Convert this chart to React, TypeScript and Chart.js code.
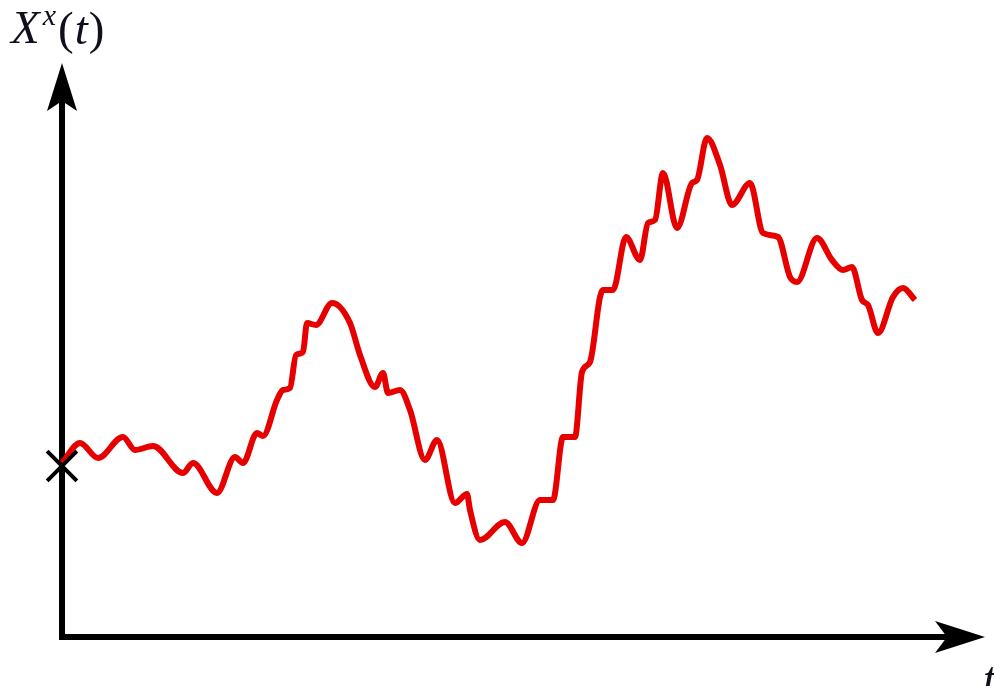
import React, { useEffect, useRef } from "react";
import { Chart, registerables } from "chart.js";

Chart.register(...registerables);

// time values (t) and process values X^x(t)
const tValues = [
  0, 18, 36, 61, 73, 91, 121, 131, 155, 173, 181, 195, 201, 215, 221, 228, 234, 241, 245, 254,
  270, 288, 298, 313, 321, 326, 338, 348, 363, 375, 393, 405, 408, 418, 443, 460, 478, 491,
  501, 513, 520, 528, 538, 541, 551, 564, 578, 586, 593, 601, 615, 630, 635, 645, 658, 670,
  688, 701, 716, 728, 735, 755, 770, 781, 790, 800, 806, 816, 831, 841, 853,
];
const xValues = [
  174, 194, 179, 200, 187, 191, 164, 174, 144, 180, 174, 204, 201, 237, 247, 249, 282, 285, 314, 312,
  334, 314, 282, 250, 264, 244, 247, 227, 177, 197, 134, 143, 127, 97, 115, 94, 137, 137,
  200, 200, 265, 275, 340, 347, 347, 400, 377, 414, 417, 464, 409, 454, 457, 499, 472, 432,
  454, 404, 400, 360, 355, 399, 377, 367, 370, 337, 332, 304, 340, 349, 337,
];
const startPoint = [{ x: 0, y: 171 }];
const axisRange = { tMax: 923, xMax: 574 };
const yLabelParts = ["X", "x", "(", "t", ")"];
const xLabel = "t";

const axesPlugin = {
  id: "arrowAxes",
  beforeDatasetsDraw(chart: any) {
    const ctx = chart.ctx;
    const xs = chart.scales.x;
    const ys = chart.scales.y;
    const x0 = xs.getPixelForValue(0);
    const y0 = ys.getPixelForValue(0);
    const xTip = xs.getPixelForValue(axisRange.tMax);
    const yTip = ys.getPixelForValue(axisRange.xMax);
    ctx.save();
    ctx.strokeStyle = "#000";
    ctx.fillStyle = "#000";
    ctx.lineWidth = 6;
    ctx.lineCap = "butt";
    ctx.beginPath();
    ctx.moveTo(x0, y0 + 3);
    ctx.lineTo(x0, yTip + 30);
    ctx.moveTo(x0 - 3, y0);
    ctx.lineTo(xTip - 30, y0);
    ctx.stroke();
    // vertical arrowhead
    ctx.beginPath();
    ctx.moveTo(x0, yTip);
    ctx.lineTo(x0 + 15, yTip + 48);
    ctx.lineTo(x0, yTip + 38);
    ctx.lineTo(x0 - 15, yTip + 48);
    ctx.closePath();
    ctx.fill();
    // horizontal arrowhead
    ctx.beginPath();
    ctx.moveTo(xTip, y0);
    ctx.lineTo(xTip - 50, y0 - 16);
    ctx.lineTo(xTip - 38, y0);
    ctx.lineTo(xTip - 50, y0 + 16);
    ctx.closePath();
    ctx.fill();

    // labels
    ctx.fillStyle = "#10101c";
    ctx.textBaseline = "alphabetic";
    ctx.textAlign = "left";
    let cx = 11;
    ctx.font = 'italic 47px "Liberation Serif"';
    ctx.fillText(yLabelParts[0], cx, 43);
    cx += ctx.measureText(yLabelParts[0]).width + 3;
    ctx.font = 'italic 30px "Liberation Serif"';
    ctx.fillText(yLabelParts[1], cx, 25);
    cx += ctx.measureText(yLabelParts[1]).width + 2;
    ctx.font = '47px "Liberation Serif"';
    ctx.fillText(yLabelParts[2], cx, 44);
    cx += ctx.measureText(yLabelParts[2]).width + 1;
    ctx.font = 'italic 47px "Liberation Serif"';
    ctx.fillText(yLabelParts[3], cx, 44);
    cx += ctx.measureText(yLabelParts[3]).width + 1;
    ctx.font = '47px "Liberation Serif"';
    ctx.fillText(yLabelParts[4], cx, 44);

    ctx.font = 'italic 47px "Liberation Serif"';
    ctx.fillText(xLabel, xTip - 2, y0 + 57);
    ctx.restore();
  },
};

export default function App() {
  const canvasRef = useRef<HTMLCanvasElement | null>(null);
  useEffect(() => {
    document.body.style.margin = "0";
    const canvas = canvasRef.current;
    if (!canvas) return;
    const chart = new Chart(canvas, {
      type: "line",
      data: {
        datasets: [
          {
            data: tValues.map((t, i) => ({ x: t, y: xValues[i] })),
            borderColor: "#e60000",
            borderWidth: 6,
            pointRadius: 0,
            cubicInterpolationMode: "monotone",
            fill: false,
            clip: false as any,
            order: 2,
          },
          {
            data: startPoint,
            showLine: false,
            pointStyle: "crossRot",
            pointRadius: 21,
            pointBorderWidth: 4,
            pointBorderColor: "#000",
            borderColor: "#000",
            clip: false as any,
            order: 1,
          },
        ],
      },
      options: {
        responsive: false,
        animation: false,
        layout: { autoPadding: false, padding: { left: 62, right: 9, top: 63, bottom: 49 } } as any,
        plugins: { legend: { display: false }, tooltip: { enabled: false } },
        scales: {
          x: { type: "linear", min: 0, max: axisRange.tMax, display: false },
          y: { type: "linear", min: 0, max: axisRange.xMax, display: false },
        },
      },
      plugins: [axesPlugin],
    });
    return () => chart.destroy();
  }, []);
  return (
    <div style={{ width: 994, height: 686, background: "#fff" }}>
      <canvas ref={canvasRef} width={994} height={686} />
    </div>
  );
}
